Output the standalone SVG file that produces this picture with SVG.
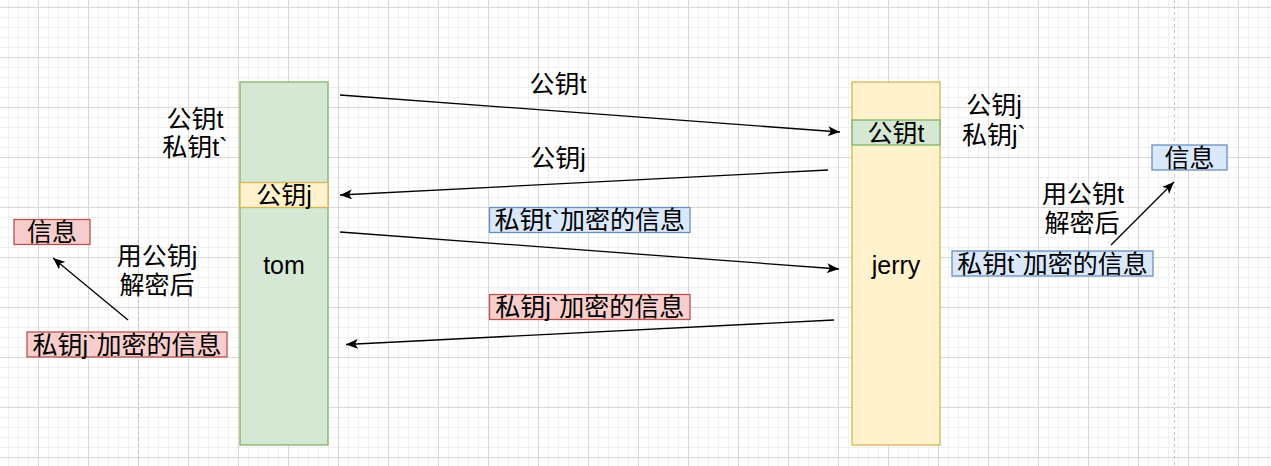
<svg xmlns="http://www.w3.org/2000/svg" width="1271" height="466" viewBox="0 0 1271 466">
  <style>
    text { font-family: "Liberation Sans", "Noto Sans CJK SC", sans-serif; font-size: 25px; fill: #000; text-anchor: middle; dominant-baseline: central; }
    .green { fill: #d5e8d4; stroke: #82b366; stroke-width: 1.3; }
    .yellow { fill: #fff2cc; stroke: #d6b656; stroke-width: 1.3; }
    .blue { fill: #dae8fc; stroke: #6c8ebf; stroke-width: 1.3; }
    .red { fill: #f8cecc; stroke: #b85450; stroke-width: 1.3; }
    .edge { fill: none; stroke: #000; stroke-width: 1.3; marker-end: url(#arrow); }
    .page { stroke: #c4c4c4; stroke-width: 1; stroke-dasharray: 3 3; }
  </style>
  <defs>
    <pattern id="grid" x="38" y="7" width="50" height="50" patternUnits="userSpaceOnUse">
      <path d="M10.5 0V50M20.5 0V50M30.5 0V50M40.5 0V50M0 10.5H50M0 20.5H50M0 30.5H50M0 40.5H50" stroke="#f0f0f0" stroke-width="1" fill="none"/>
      <path d="M0.5 0V50M0 0.5H50" stroke="#d9d9d9" stroke-width="1" fill="none"/>
    </pattern>
    <marker id="arrow" viewBox="0 0 12 10" refX="12" refY="5" markerWidth="12" markerHeight="10" markerUnits="userSpaceOnUse" orient="auto">
      <path d="M12 5L0 0L3 5L0 10Z" fill="#000"/>
    </marker>
  </defs>
  <rect width="1271" height="466" fill="#fff"/>
  <rect width="1271" height="466" fill="url(#grid)"/>
  <line class="page" x1="138.5" y1="0" x2="138.5" y2="466"/>
  <line class="page" x1="1174.5" y1="0" x2="1174.5" y2="466"/>

  <g id="tom">
    <rect class="green" x="240" y="82" width="88" height="363"/>
    <rect class="yellow" x="240" y="182.5" width="88" height="25"/>
    <text x="284" y="195">公钥j</text>
    <text x="284" y="265">tom</text>
  </g>
  <g id="jerry">
    <rect class="yellow" x="852" y="82" width="88" height="363"/>
    <rect class="green" x="852" y="120" width="88" height="25"/>
    <text x="896" y="132.5">公钥t</text>
    <text x="896" y="265">jerry</text>
  </g>
  <g id="tom-keys">
    <text x="195" y="119">公钥t</text>
    <text x="195" y="147">私钥t`</text>
  </g>
  <g id="jerry-keys">
    <text x="994" y="105">公钥j</text>
    <text x="994" y="135">私钥j`</text>
  </g>
  <g id="left-info">
    <rect class="red" x="14" y="219.5" width="76" height="25"/>
    <text x="52" y="232">信息</text>
  </g>
  <g id="left-encrypted">
    <rect class="red" x="27" y="332" width="200" height="25"/>
    <text x="127" y="344.5">私钥j`加密的信息</text>
  </g>
  <g id="left-decrypt">
    <text x="157" y="256">用公钥j</text>
    <text x="157" y="285">解密后</text>
  </g>
  <g id="right-info">
    <rect class="blue" x="1152" y="145" width="75" height="25"/>
    <text x="1189.5" y="157.5">信息</text>
  </g>
  <g id="right-encrypted">
    <rect class="blue" x="952" y="251" width="201" height="25"/>
    <text x="1052.5" y="263.5">私钥t`加密的信息</text>
  </g>
  <g id="right-decrypt">
    <text x="1083" y="194">用公钥t</text>
    <text x="1082" y="223">解密后</text>
  </g>
  <g id="label-pubt">
    <text x="558" y="84">公钥t</text>
  </g>
  <g id="label-pubj">
    <text x="558" y="158">公钥j</text>
  </g>
  <g id="label-blue">
    <rect class="blue" x="489.5" y="207.5" width="200.5" height="25"/>
    <text x="589.75" y="220">私钥t`加密的信息</text>
  </g>
  <g id="label-red">
    <rect class="red" x="489.5" y="294.5" width="200.5" height="25"/>
    <text x="589.75" y="307">私钥j`加密的信息</text>
  </g>

  <g id="connectors">
    <path class="edge" d="M340 95L840 132"/>
    <path class="edge" d="M828 170L340 195"/>
    <path class="edge" d="M340 232L839 269"/>
    <path class="edge" d="M834 320L346 344.5"/>
    <path class="edge" d="M128 320L53 258"/>
    <path class="edge" d="M1111 245L1174 182"/>
  </g>
</svg>
